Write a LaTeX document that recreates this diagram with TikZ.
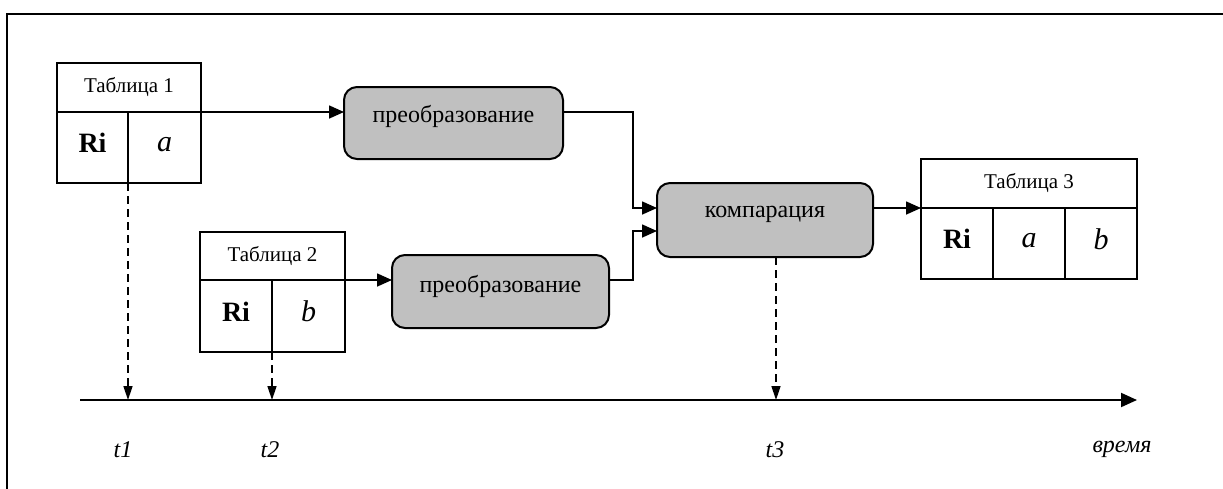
\documentclass[tikz,border=0pt]{standalone}
\usepackage{fontspec}
\setmainfont{Liberation Serif}
\usetikzlibrary{arrows.meta}
\definecolor{procgray}{HTML}{C0C0C0}
\tikzset{
  cell/.style={draw, line width=2pt, inner sep=0pt, outer sep=0pt, anchor=north west},
  proc/.style={draw, line width=2pt, fill=procgray, rounded corners=13pt, inner sep=0pt, outer sep=0pt, anchor=north west},
  ptext/.style={font=\fontsize{24}{28}\selectfont},
  conn/.style={line width=1.6pt, -{Triangle[length=15pt,width=13pt]}},
  timeln/.style={line width=1.5pt, dash pattern=on 8pt off 5pt, -{Triangle[length=14pt,width=9pt]}},
  hdr/.style={font=\fontsize{21}{24}\selectfont},
  keyt/.style={font=\fontsize{28}{32}\selectfont\bfseries},
  valt/.style={font=\fontsize{30}{34}\selectfont\itshape},
  tlab/.style={font=\fontsize{24}{28}\selectfont\itshape}
}
\begin{document}
\begin{tikzpicture}[x=1pt,y=-1pt]
\useasboundingbox (0,0) rectangle (1223,488);
% outer frame
\draw[line width=2pt] (7,500) -- (7,14) -- (1240,14);
% Table 1
\node[cell, minimum width=144pt, minimum height=49pt] (t1h) at (57,63) {};
\node[hdr] at (t1h.center) {Таблица 1};
\node[cell, minimum width=71pt, minimum height=71pt] (t1k) at (57,112) {};
\node[cell, minimum width=73pt, minimum height=71pt] (t1v) at (128,112) {};
\node[keyt] at ([yshift=4.5pt]t1k.center) {Ri};
\node[valt] at ([yshift=2.5pt]t1v.center) {a};
% Table 2
\node[cell, minimum width=145pt, minimum height=48pt] (t2h) at (200,232) {};
\node[hdr] at (t2h.center) {Таблица 2};
\node[cell, minimum width=72pt, minimum height=72pt] (t2k) at (200,280) {};
\node[cell, minimum width=73pt, minimum height=72pt] (t2v) at (272,280) {};
\node[keyt] at ([yshift=4.5pt]t2k.center) {Ri};
\node[valt] at ([yshift=4.5pt]t2v.center) {b};
% Table 3
\node[cell, minimum width=216pt, minimum height=49pt] (t3h) at (921,159) {};
\node[hdr] at (t3h.center) {Таблица 3};
\node[cell, minimum width=72pt, minimum height=71pt] (t3k) at (921,208) {};
\node[cell, minimum width=72pt, minimum height=71pt] (t3a) at (993,208) {};
\node[cell, minimum width=72pt, minimum height=71pt] (t3b) at (1065,208) {};
\node[keyt] at ([yshift=4.5pt]t3k.center) {Ri};
\node[valt] at ([yshift=2.5pt]t3a.center) {a};
\node[valt] at ([yshift=4.5pt]t3b.center) {b};
% process boxes
\node[proc, minimum width=219pt, minimum height=72pt] (p1) at (344,87) {};
\node[ptext] at ([yshift=7pt]p1.center) {преобразование};
\node[proc, minimum width=217pt, minimum height=73pt] (p2) at (392,255) {};
\node[ptext] at ([yshift=5pt]p2.center) {преобразование};
\node[proc, minimum width=216pt, minimum height=74pt] (cmp) at (657,183) {};
\node[ptext] at ([yshift=6pt]cmp.center) {компарация};
% connectors
\draw[conn] (t1h.south east) -- (t1h.south east -| p1.west);
\draw[conn] (t2h.south east) -- (t2h.south east -| p2.west);
\coordinate (c1) at (633,112);
\coordinate (c2) at (633,280);
\draw[conn] (c1 -| p1.east) -- (c1) -- (633,208) -- (657,208);
\draw[conn] (c2 -| p2.east) -- (c2) -- (633,231) -- (657,231);
\draw[conn] (cmp.east |- t3h.south west) -- (t3h.south west);
% time axis
\coordinate (ax0) at (80,400);
\coordinate (ax1) at (1137,400);
\coordinate (d3) at (776,257);
\draw[line width=2pt, -{Triangle[length=16pt,width=14pt]}] (ax0) -- (ax1);
\draw[timeln] (t1k.south east) -- (t1k.south east |- ax0);
\draw[timeln] (t2k.south east) -- (t2k.south east |- ax0);
\draw[timeln] (d3) -- (d3 |- ax0);
\node[tlab] (l1) at (123,450) {t1};
\node[tlab] (l2) at (270,450) {t2};
\node[tlab] (l3) at (775,450) {t3};
\node[tlab] (l4) at (1122,449) {время};
\end{tikzpicture}
\end{document}
